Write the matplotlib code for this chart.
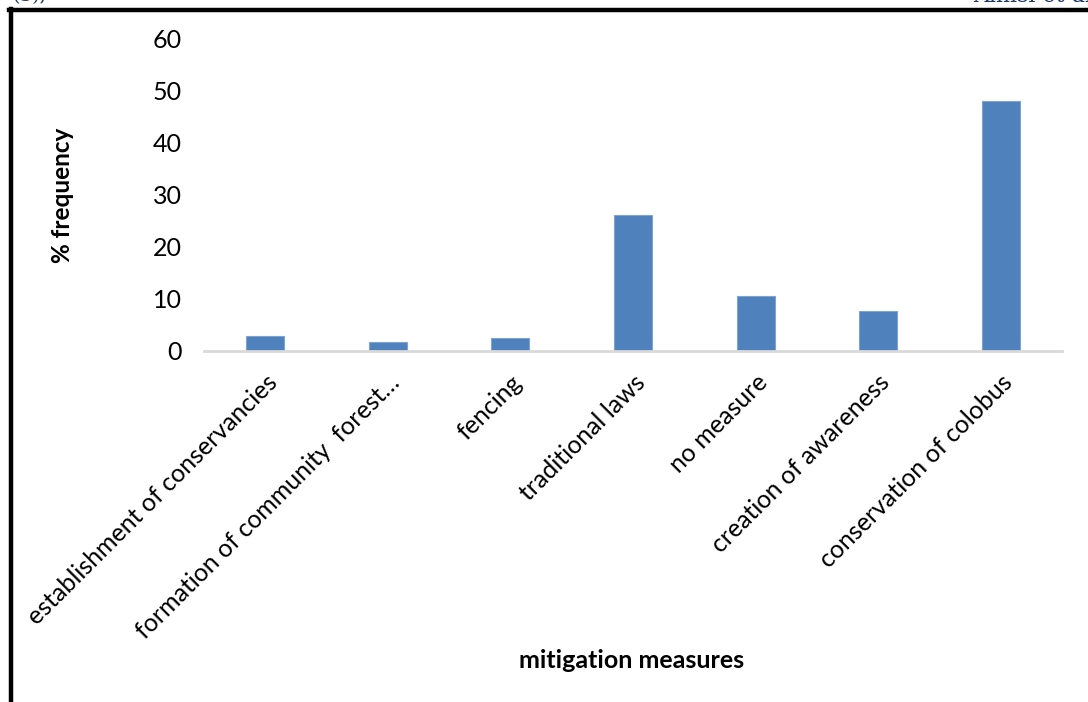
import numpy as np
import matplotlib.pyplot as plt
import matplotlib as mpl
from matplotlib.lines import Line2D

mpl.rcParams['font.family'] = ['Lato', 'DejaVu Sans']

measures = [
    "establishment of conservancies",
    "formation of community  forest\u2026",
    "fencing",
    "traditional laws",
    "no measure",
    "creation of awareness",
    "conservation of colobus",
]
frequency = [2.9, 1.8, 2.4, 26.0, 10.6, 7.7, 47.9]

bar_colour = "#4f81bd"

figure = plt.figure(figsize=(10.88, 7.02), dpi=100)
axes = figure.add_axes([204 / 1088, 1 - 351 / 702, 858 / 1088, 313 / 702])

positions = np.arange(len(measures))
axes.bar(positions, frequency, width=0.31, color=bar_colour,
         edgecolor="#7fa3d1", linewidth=0.8)

axes.set_xlim(-0.5, len(measures) - 0.5)
axes.set_ylim(0, 60)
axes.set_yticks(np.arange(0, 61, 10))
axes.tick_params(axis="y", length=0, labelsize=18, pad=16)
axes.tick_params(axis="x", length=0, pad=14)
axes.set_xticks(positions)
axes.set_xticklabels(measures, rotation=45, ha="right", va="top",
                     rotation_mode="anchor", fontsize=18)
for side in ["left", "right", "top"]:
    axes.spines[side].set_visible(False)
axes.spines["bottom"].set_color("#d9d9d9")
axes.spines["bottom"].set_linewidth(2)

figure.text(62 / 1088, 1 - 195 / 702, "% frequency", rotation=90,
            ha="center", va="center", fontsize=17.5, fontweight="bold")
figure.text(632 / 1088, 1 - 660 / 702, "mitigation measures",
            ha="center", va="center", fontsize=18, fontweight="bold")

# page frame and running header around the figure
figure.add_artist(Line2D([11 / 1088, 11 / 1088], [0, 1 - 9 / 702],
                         color="black", linewidth=3.2, transform=figure.transFigure))
figure.add_artist(Line2D([9 / 1088, 1], [1 - 9.5 / 702, 1 - 9.5 / 702],
                         color="black", linewidth=3.2, transform=figure.transFigure))
figure.text(12 / 1088, 1 + 4 / 702, "(3),", color="#1f3864", fontsize=14,
            family="DejaVu Serif", ha="left", va="center")
figure.text(1092 / 1088, 1 + 4 / 702, "Amisi et al", color="#1f3864", fontsize=16,
            family="DejaVu Serif", ha="right", va="center")

figure.savefig("out.png", dpi=100)
